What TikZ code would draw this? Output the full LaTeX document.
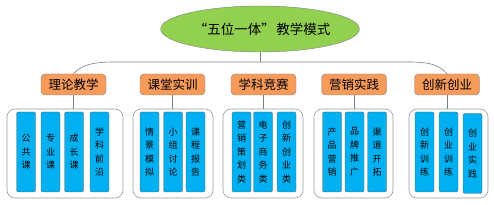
\documentclass[tikz,border=0pt]{standalone}
\usepackage{fontspec}
\newfontfamily\cjk{Noto Sans CJK SC}
\usetikzlibrary{arrows.meta,positioning,calc,shapes.geometric}
\definecolor{modegreen}{HTML}{92D050}
\definecolor{modeorange}{HTML}{F79B5B}
\definecolor{modeblue}{HTML}{00B0F0}
\definecolor{modeline}{HTML}{7F7F7F}
\definecolor{modeframe}{HTML}{9A9A9A}

\begin{document}
\begin{tikzpicture}[
  x=1pt,y=1pt,
  rootnode/.style={ellipse,draw=modeline,fill=modegreen,minimum width=186pt,minimum height=46pt,inner sep=0pt,font=\cjk\fontsize{13.5}{15}\selectfont},
  topic/.style={draw=modeline,fill=modeorange,rounded corners=4pt,minimum width=65pt,minimum height=21pt,inner sep=0pt,font=\cjk\fontsize{12.5}{14}\selectfont},
  holder/.style={draw=modeframe,rounded corners=8pt,minimum height=89pt,inner sep=0pt,line width=0.6pt},
  strip/.style={draw=black!60,fill=modeblue,rounded corners=1.5pt,minimum width=19pt,minimum height=80pt,inner sep=0pt,align=center,font=\cjk\fontsize{9}{13.5}\selectfont},
  link/.style={draw=modeline,line width=0.6pt}
]
\useasboundingbox (0,0) rectangle (494,205);

\node[rootnode] (mode) at (260,176) {\kern4pt“五位一体”\kern1.5pt 教学模式};

\node[topic] (theory) at (73.5,120.5) {理论教学};
\node[topic] (classroom) at (172.5,120.5) {课堂实训};
\node[topic] (contest) at (263.5,120.5) {学科竞赛};
\node[topic] (market) at (354,120.5) {营销实践};
\node[topic] (venture) at (447,120.5) {创新创业};

% containers
\node[holder,minimum width=116pt] (theorybox) at (65,51.5) {};
\node[holder,minimum width=80pt] (classbox) at (173,51.5) {};
\node[holder,minimum width=80pt] (contestbox) at (263,51.5) {};
\node[holder,minimum width=79pt] (marketbox) at (353.5,51.5) {};
\node[holder,minimum width=79pt] (venturebox) at (448.5,51.5) {};

% strips
\node[strip] (public) at (26,53) {公\\共\\课};
\node[strip] (major) at (50.5,53) {专\\业\\课};
\node[strip] (growth) at (74,53) {成\\长\\课};
\node[strip] (frontier) at (99.5,53) {学\\科\\前\\沿};

\node[strip] (scene) at (149.5,53) {情\\景\\模\\拟};
\node[strip] (group) at (173,53) {小\\组\\讨\\论};
\node[strip] (report) at (195.5,53) {课\\程\\报\\告};

\node[strip] (planning) at (241.5,53) {营\\销\\策\\划\\类};
\node[strip] (ecommerce) at (263,53) {电\\子\\商\\务\\类};
\node[strip] (startup) at (286.5,53) {创\\新\\创\\业\\类};

\node[strip] (product) at (332,53) {产\\品\\营\\销};
\node[strip] (brand) at (354.5,53) {品\\牌\\推\\广};
\node[strip] (channel) at (377,53) {渠\\道\\开\\拓};

\node[strip] (innotrain) at (424.5,53) {创\\新\\训\\练};
\node[strip] (venttrain) at (448.5,53) {创\\业\\训\\练};
\node[strip] (ventpractice) at (472.5,51.5) {创\\业\\实\\践};

% connectors
\coordinate (hub) at (260,143);
\coordinate (lbend) at (115,143);
\coordinate (rbend) at (408,143);
\draw[link] (mode.south) -- (hub);
\draw[link] (theory.north) .. controls +(8,9) and +(-22,0) .. (lbend) -- (rbend) .. controls +(22,0) and +(-8,9) .. (venture.north);

\draw[link] (theory.south) -- (theory.south |- theorybox.north);
\draw[link] (classroom.south) -- (classroom.south |- classbox.north);
\draw[link] (contest.south) -- (contest.south |- contestbox.north);
\draw[link] (market.south) -- (market.south |- marketbox.north);
\draw[link] (venture.south) -- (venture.south |- venturebox.north);
\end{tikzpicture}
\end{document}
